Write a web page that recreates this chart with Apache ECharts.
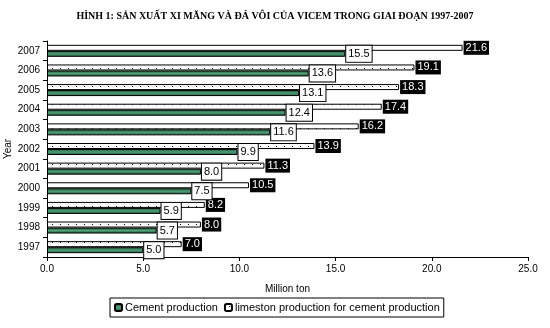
<!DOCTYPE html>
<html><head><meta charset="utf-8">
<script src="https://cdn.jsdelivr.net/npm/echarts@6/dist/echarts.min.js"></script>
<style>html,body{margin:0;padding:0;background:#fff}#c{width:550px;height:328px}</style>
</head><body><div id="c"></div>
<script>
var years = ['1997','1998','1999','2000','2001','2002','2003','2004','2005','2006','2007'];
var cement = [5.0, 5.7, 5.9, 7.5, 8.0, 9.9, 11.6, 12.4, 13.1, 13.6, 15.5];
var limestone = [7.0, 8.0, 8.2, 10.5, 11.3, 13.9, 16.2, 17.4, 18.3, 19.1, 21.6];
var xTicks = [0, 5, 10, 15, 20, 25];

var pc = document.createElement('canvas');
pc.width = 8; pc.height = 6;
var g = pc.getContext('2d');
g.fillStyle = '#fff'; g.fillRect(0,0,8,6);
g.fillStyle = '#000'; g.fillRect(4,2,1,1);

var font = 'Liberation Sans, Arial, sans-serif';
var chart = echarts.init(document.getElementById('c'));
chart.setOption({
  animation: false,
  backgroundColor: '#fff',
  title: {
    text: 'HÌNH 1: SẢN XUẤT XI MĂNG VÀ ĐÁ VÔI CỦA VICEM TRONG GIAI ĐOẠN 1997-2007',
    left: 'center', top: 6,
    textStyle: {fontFamily: 'Liberation Serif, Times New Roman, serif', fontWeight: 'bold', fontSize: 10, color: '#000'}
  },
  legend: {
    top: 298, left: 110,
    data: ['Cement production', 'limeston production for cement production'],
    itemWidth: 7, itemHeight: 7, itemGap: 6,
    borderColor: '#000', borderWidth: 1, padding: [4, 4],
    textStyle: {fontFamily: font, fontSize: 11, color: '#000', padding: [0,0,0,-2]}
  },
  grid: {left: 47, right: 22, top: 41, bottom: 71, containLabel: false, outerBoundsMode: 'none'},
  xAxis: {
    type: 'value', min: xTicks[0], max: xTicks[xTicks.length-1], interval: 5,
    name: 'Million ton', nameLocation: 'middle', nameGap: 27,
    nameTextStyle: {fontFamily: font, fontSize: 10, color: '#000'},
    axisLine: {show: true, lineStyle: {color: '#000', width: 1}},
    axisTick: {show: true, length: 4, lineStyle: {color: '#000'}},
    splitLine: {show: false},
    axisLabel: {fontFamily: font, fontSize: 10, color: '#000', margin: 7, formatter: function(v){return v.toFixed(1);}}
  },
  yAxis: {
    type: 'category', data: years,
    name: 'Year', nameLocation: 'middle', nameGap: 34, nameMoveOverlap: false,
    nameTextStyle: {fontFamily: font, fontSize: 10, color: '#000'},
    axisLine: {show: true, lineStyle: {color: '#000', width: 1}},
    axisTick: {show: true, length: 4, lineStyle: {color: '#000'}},
    axisLabel: {fontFamily: font, fontSize: 10, color: '#000', margin: 7}
  },
  series: [
    {
      name: 'limeston production for cement production', type: 'bar', data: limestone,
      barWidth: 6, barGap: '0%', barCategoryGap: '40%',
      itemStyle: {color: {image: pc, repeat: 'repeat'}, borderColor: '#000', borderWidth: 1},
      label: {show: true, position: 'right', distance: 1, formatter: function(p){return p.value.toFixed(1);},
        backgroundColor: '#000', color: '#fff', fontFamily: font, fontSize: 11, padding: [2, 2, 1, 2]},
      z: 2
    },
    {
      name: 'Cement production', type: 'bar', data: cement,
      barWidth: 6, barGap: '0%',
      itemStyle: {
        color: new echarts.graphic.LinearGradient(0,0,0,1,[{offset:0,color:'#1f5c3e'},{offset:0.5,color:'#4f9c76'},{offset:1,color:'#1f5c3e'}]),
        borderColor: '#000', borderWidth: 1
      },
      label: {show: true, position: 'right', distance: 1, formatter: function(p){return p.value.toFixed(1);},
        backgroundColor: '#fff', borderColor: '#000', borderWidth: 1, color: '#000', fontFamily: font, fontSize: 11, padding: [3, 2, 2, 2]},
      z: 3
    }
  ]
});
</script></body></html>
